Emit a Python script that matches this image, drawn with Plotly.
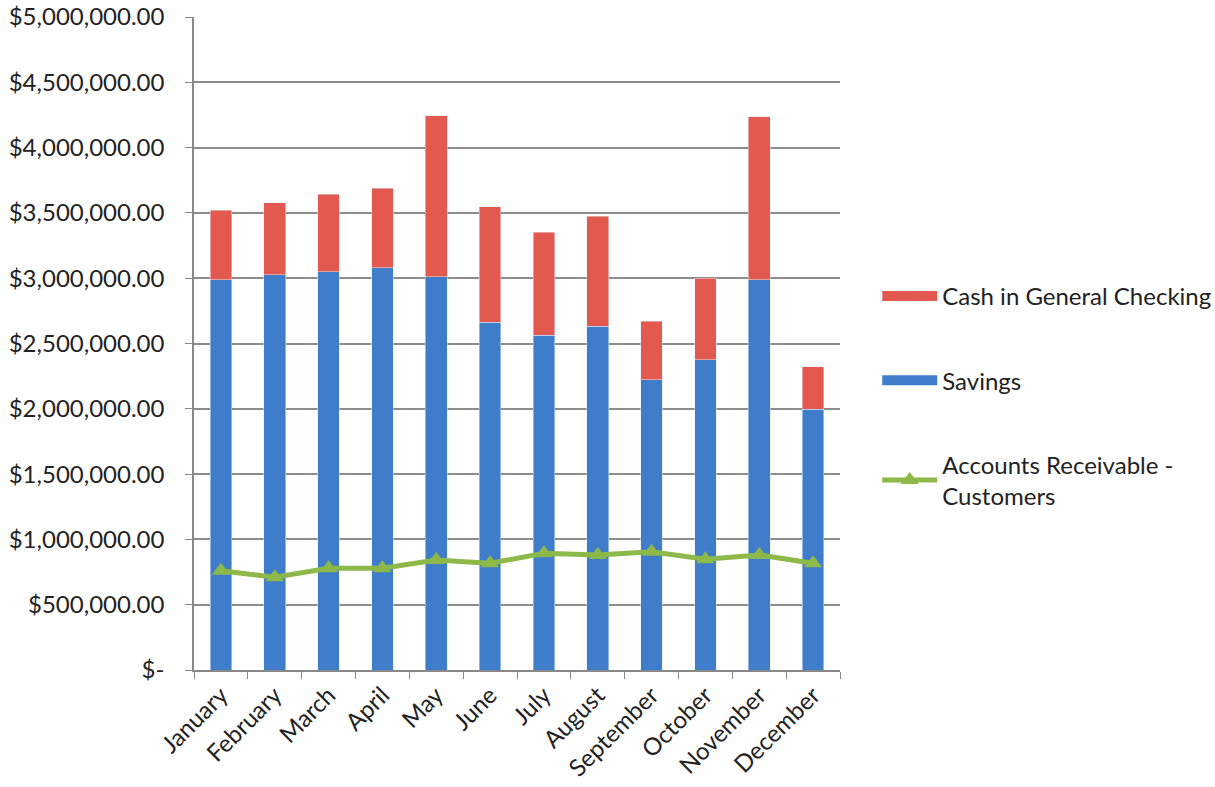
import plotly.graph_objects as go

months = ["January", "February", "March", "April", "May", "June", "July",
          "August", "September", "October", "November", "December"]
savings = [2990000, 3025000, 3050000, 3080000, 3012000, 2662000, 2565000,
           2634000, 2223000, 2377000, 2987000, 1995000]
cash_checking = [530000, 551000, 593000, 608000, 1230000, 885000, 786000,
                 842000, 449000, 623000, 1249000, 326000]
accounts_receivable = [760000, 710000, 779000, 780000, 842000, 817000, 894000,
                       881000, 906000, 848000, 881000, 817000]

y_tick_vals = [0, 500000, 1000000, 1500000, 2000000, 2500000, 3000000,
               3500000, 4000000, 4500000, 5000000]
y_tick_text = ["$-", "$500,000.00", "$1,000,000.00", "$1,500,000.00",
               "$2,000,000.00", "$2,500,000.00", "$3,000,000.00",
               "$3,500,000.00", "$4,000,000.00", "$4,500,000.00",
               "$5,000,000.00"]

BLUE = "#3F7DCB"
RED = "#E4594F"
GREEN = "#8DB84A"
FONT = "Lato"

fig = go.Figure()
fig.add_trace(go.Bar(x=months, y=savings, name="Savings", marker_color=BLUE,
                     showlegend=False))
fig.add_trace(go.Bar(x=months, y=cash_checking, name="Cash in General Checking",
                     marker_color=RED, showlegend=False))
fig.add_trace(go.Scatter(x=months, y=accounts_receivable,
                         name="Accounts Receivable -<br>Customers",
                         mode="lines+markers",
                         line=dict(color=GREEN, width=5),
                         marker=dict(symbol="triangle-up", size=16, color=GREEN),
                         legendrank=3, legendgroup="c"))
# legend swatches (wide rectangles like the original)
fig.add_trace(go.Scatter(x=[None], y=[None], mode="lines",
                         name="Cash in General Checking",
                         line=dict(color=RED, width=14),
                         legendrank=1, legendgroup="a"))
fig.add_trace(go.Scatter(x=[None], y=[None], mode="lines", name="Savings",
                         line=dict(color=BLUE, width=14),
                         legendrank=2, legendgroup="b"))

fig.update_layout(
    width=1215, height=787,
    barmode="stack", bargap=0.6,
    plot_bgcolor="white", paper_bgcolor="white",
    margin=dict(l=194, r=375, t=17, b=117),
    font=dict(family=FONT, size=22, color="#222222"),
    legend=dict(xref="container", yref="container",
                x=0.722, xanchor="left", y=0.497, yanchor="middle",
                traceorder="grouped", tracegroupgap=50, itemwidth=55,
                font=dict(family=FONT, size=24, color="#222222")),
    showlegend=True,
)
fig.update_xaxes(range=[-0.5, len(months) - 0.5],
                 showline=True, linecolor="#888888", linewidth=1.5,
                 ticks="outside", tickson="boundaries", ticklen=7,
                 tickcolor="#888888", tickangle=-45, automargin=False,
                 tickfont=dict(family=FONT, size=24, color="#222222"))
fig.update_yaxes(range=[0, 5000000], tickvals=y_tick_vals, ticktext=y_tick_text,
                 showline=True, linecolor="#888888", linewidth=1.5,
                 showgrid=True, gridcolor="#8c8c8c", gridwidth=1.5,
                 ticks="outside", ticklen=7, tickcolor="#888888",
                 zeroline=False, automargin=False, ticklabelstandoff=16,
                 tickfont=dict(family=FONT, size=24, color="#222222"))

fig.write_html("out.html")
